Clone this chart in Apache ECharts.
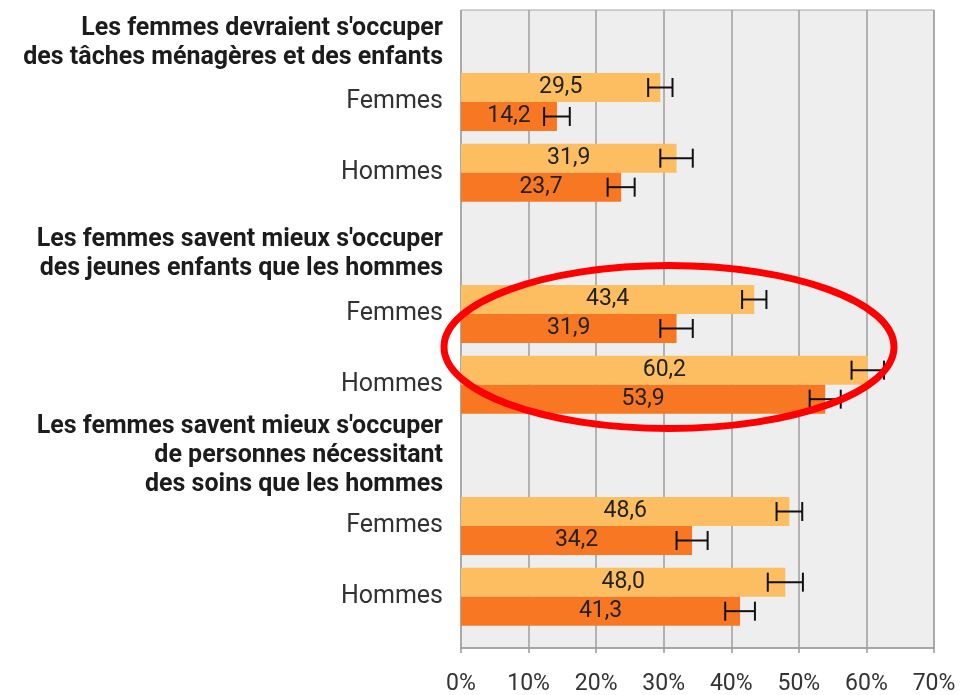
<!DOCTYPE html>
<html>
<head>
<meta charset="utf-8">
<script src="https://cdn.jsdelivr.net/npm/echarts@6/dist/echarts.min.js"></script>
<style>
  html, body { margin: 0; padding: 0; background: #fff; }
  #main { width: 963px; height: 695px; }
</style>
</head>
<body>
<div id="main"></div>
<script>
var categories = [
  "Les femmes devraient s'occuper\ndes tâches ménagères et des enfants",
  'Femmes', 'Hommes',
  "Les femmes savent mieux s'occuper\ndes jeunes enfants que les hommes",
  'Femmes', 'Hommes',
  "Les femmes savent mieux s'occuper\nde personnes nécessitant\ndes soins que les hommes",
  'Femmes', 'Hommes'
]
var headerRows = [0, 3, 6]
var headerLead = ['s1', 's2', null]
var lightValues = [null, 29.5, 31.9, null, 43.4, 60.2, null, 48.6, 48.0]
var darkValues = [null, 14.2, 23.7, null, 31.9, 53.9, null, 34.2, 41.3]
var lightErr = [null, 1.8, 2.4, null, 1.8, 2.4, null, 1.9, 2.6]
var darkErr = [null, 1.9, 2.0, null, 2.4, 2.3, null, 2.3, 2.2]
var xTicks = { min: 0, max: 70, step: 10 }

var BAR_W = 29
var font = 'Roboto, "Noto Sans", sans-serif'

var chart = echarts.init(document.getElementById('main'))

// header rows get bold rich text, with a spacer line to push them down a bit
function catLabel(value, index) {
  var h = headerRows.indexOf(index)
  if (h < 0) return value
  var lines = value.split('\n').map(function (l) { return '{h|' + l + '}' })
  if (headerLead[h]) lines.unshift('{' + headerLead[h] + '| }')
  return lines.join('\n')
}

function errData(values, errs) {
  var out = []
  values.forEach(function (v, i) {
    if (v == null) return
    out.push([v - errs[i], v + errs[i], i])
  })
  return out
}

function errRender(offset) {
  return function (params, api) {
    var a = api.coord([api.value(0), api.value(2)])
    var b = api.coord([api.value(1), api.value(2)])
    var y = a[1] + offset
    var cap = 9.5
    var st = { stroke: '#111', lineWidth: 2 }
    return {
      type: 'group',
      children: [
        { type: 'line', shape: { x1: a[0], y1: y, x2: b[0], y2: y }, style: st },
        { type: 'line', shape: { x1: a[0], y1: y - cap, x2: a[0], y2: y + cap }, style: st },
        { type: 'line', shape: { x1: b[0], y1: y - cap, x2: b[0], y2: y + cap }, style: st }
      ]
    }
  }
}

function fmt(p) {
  return p.value.toFixed(1).replace('.', ',')
}

var option = {
  backgroundColor: '#fff',
  textStyle: { fontFamily: font },
  animation: false,
  grid: [
    { left: 461, right: 29, top: 10, bottom: 47, outerBoundsMode: 'none', containLabel: false,
      show: true, backgroundColor: '#eeeeee', borderColor: '#a6a6a6', borderWidth: 1 },
    { left: 461, right: 29, top: -4, height: 636, outerBoundsMode: 'none', containLabel: false }
  ],
  xAxis: [{
    gridIndex: 0,
    type: 'value',
    min: xTicks.min,
    max: xTicks.max,
    interval: xTicks.step,
    axisLine: { show: true, lineStyle: { color: '#9a9a9a', width: 1.5 } },
    axisTick: { show: true, length: 5, lineStyle: { color: '#9a9a9a', width: 1.5 } },
    splitLine: { show: true, lineStyle: { color: '#9e9e9e', width: 1.5 } },
    axisLabel: { formatter: '{value}%', fontSize: 23, color: '#333', margin: 25, fontFamily: font }
  }, {
    gridIndex: 1,
    type: 'value',
    min: xTicks.min,
    max: xTicks.max,
    show: false
  }],
  yAxis: [{
    gridIndex: 0,
    type: 'value',
    show: false
  }, {
    gridIndex: 1,
    type: 'category',
    inverse: true,
    data: categories,
    axisLine: { show: false },
    axisTick: { show: false },
    splitLine: { show: false },
    axisLabel: {
      interval: 0, margin: 18, fontSize: 25, color: '#333', fontFamily: font,
      formatter: catLabel,
      rich: {
        h: { fontWeight: 'bold', fontSize: 25, color: '#1c1c1c', lineHeight: 29, fontFamily: font },
        s1: { fontSize: 10, lineHeight: 24 },
        s2: { fontSize: 10, lineHeight: 22 }
      }
    }
  }],
  series: [{
    type: 'bar',
    xAxisIndex: 1,
    yAxisIndex: 1,
    data: lightValues,
    barWidth: BAR_W,
    barGap: 0,
    itemStyle: { color: '#fdbe62' },
    label: { show: true, position: 'inside', formatter: fmt, fontSize: 23, color: '#222', fontFamily: font }
  }, {
    type: 'bar',
    xAxisIndex: 1,
    yAxisIndex: 1,
    data: darkValues,
    barWidth: BAR_W,
    barGap: 0,
    itemStyle: { color: '#f87722' },
    label: { show: true, position: 'inside', formatter: fmt, fontSize: 23, color: '#222', fontFamily: font }
  }, {
    type: 'custom',
    xAxisIndex: 1,
    yAxisIndex: 1,
    data: errData(lightValues, lightErr),
    encode: { x: [0, 1], y: 2 },
    renderItem: errRender(-BAR_W / 2),
    z: 5
  }, {
    type: 'custom',
    xAxisIndex: 1,
    yAxisIndex: 1,
    data: errData(darkValues, darkErr),
    encode: { x: [0, 1], y: 2 },
    renderItem: errRender(BAR_W / 2),
    z: 5
  }],
  graphic: [{
    type: 'ellipse',
    shape: { cx: 669, cy: 347, rx: 225, ry: 81.5 },
    style: { fill: 'none', stroke: '#ff0000', lineWidth: 7 },
    z: 100
  }]
}

chart.setOption(option)
</script>
</body>
</html>
